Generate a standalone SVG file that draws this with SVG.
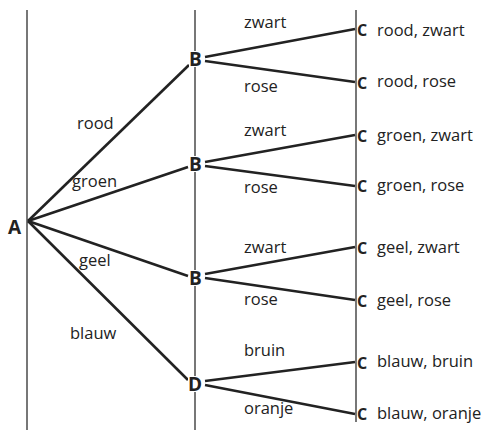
<svg xmlns="http://www.w3.org/2000/svg" width="488" height="430" viewBox="0 0 488 430">
  <style>
    .rule { stroke: #555; stroke-width: 1.6; fill: none; }
    .edge { stroke: #222; stroke-width: 2.6; fill: none; }
    .mask { fill: #fff; }
    .node { font-family: "Open Sans", "Liberation Sans", sans-serif; font-weight: bold; font-size: 19px; fill: #222; }
    .leaf { font-family: "Open Sans", "Liberation Sans", sans-serif; font-weight: bold; font-size: 16px; fill: #222; }
    .lbl { font-family: "Open Sans", "Liberation Sans", sans-serif; font-size: 16.5px; fill: #222; }
  </style>
  <rect width="488" height="430" fill="#fff"/>
  <!-- stage rules -->
  <g id="rules">
    <line class="rule" x1="27" y1="10" x2="27" y2="430"/>
    <line class="rule" x1="195" y1="10" x2="195" y2="430"/>
    <line class="rule" x1="356" y1="10" x2="356" y2="422"/>
  </g>
  <!-- connectors -->
  <g id="connectors">
    <line class="edge" x1="28" y1="221" x2="189" y2="65"/>
    <line class="edge" x1="28" y1="221" x2="188" y2="167"/>
    <line class="edge" x1="28" y1="221" x2="188" y2="276"/>
    <line class="edge" x1="28" y1="221" x2="188" y2="380"/>
    <line class="edge" x1="205" y1="57" x2="355" y2="29"/>
    <line class="edge" x1="205" y1="61" x2="355" y2="82"/>
    <line class="edge" x1="205" y1="162" x2="355" y2="135"/>
    <line class="edge" x1="205" y1="166" x2="355" y2="186"/>
    <line class="edge" x1="205" y1="274" x2="355" y2="247"/>
    <line class="edge" x1="205" y1="278" x2="355" y2="300"/>
    <line class="edge" x1="205" y1="381" x2="355" y2="362"/>
    <line class="edge" x1="205" y1="385" x2="355" y2="414"/>
    <!-- edge labels -->
    <text class="lbl" x="77" y="129">rood</text>
    <text class="lbl" x="72" y="187">groen</text>
    <text class="lbl" x="79" y="266">geel</text>
    <text class="lbl" x="70" y="339">blauw</text>
    <text class="lbl" x="244" y="28">zwart</text>
    <text class="lbl" x="244" y="92">rose</text>
    <text class="lbl" x="244" y="136">zwart</text>
    <text class="lbl" x="244" y="193">rose</text>
    <text class="lbl" x="244" y="253">zwart</text>
    <text class="lbl" x="244" y="305">rose</text>
    <text class="lbl" x="244" y="356">bruin</text>
    <text class="lbl" x="244" y="414">oranje</text>
  </g>
  <g id="A"><text class="node" x="8" y="234">A</text></g>
  <g id="B1"><rect class="mask" x="189" y="51" width="14" height="16"/><text class="node" x="189" y="66">B</text></g>
  <g id="B2"><rect class="mask" x="189" y="156" width="14" height="16"/><text class="node" x="189" y="171">B</text></g>
  <g id="B3"><rect class="mask" x="189" y="270" width="14" height="16"/><text class="node" x="189" y="285">B</text></g>
  <g id="D"><rect class="mask" x="188" y="376" width="15" height="16"/><text class="node" x="188" y="391">D</text></g>
  <g id="C1"><text class="leaf" x="357" y="36">C</text><text class="lbl" x="377" y="36">rood, zwart</text></g>
  <g id="C2"><text class="leaf" x="357" y="89">C</text><text class="lbl" x="377" y="87">rood, rose</text></g>
  <g id="C3"><text class="leaf" x="357" y="142">C</text><text class="lbl" x="377" y="141">groen, zwart</text></g>
  <g id="C4"><text class="leaf" x="357" y="192">C</text><text class="lbl" x="377" y="191">groen, rose</text></g>
  <g id="C5"><text class="leaf" x="357" y="254">C</text><text class="lbl" x="377" y="253">geel, zwart</text></g>
  <g id="C6"><text class="leaf" x="357" y="307">C</text><text class="lbl" x="377" y="306">geel, rose</text></g>
  <g id="C7"><text class="leaf" x="357" y="369">C</text><text class="lbl" x="377" y="367">blauw, bruin</text></g>
  <g id="C8"><text class="leaf" x="357" y="420">C</text><text class="lbl" x="377" y="419">blauw, oranje</text></g>
</svg>
